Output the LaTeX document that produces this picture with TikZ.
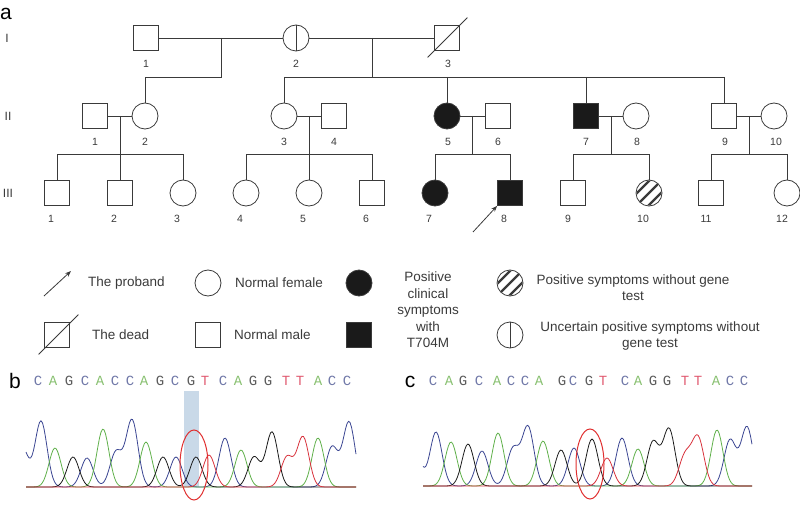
\documentclass[tikz,border=0pt]{standalone}
\usepackage{fontspec}
\setmainfont{Liberation Sans}
\newfontfamily\seqfont{Liberation Mono}
\usetikzlibrary{arrows.meta,calc}
\definecolor{pedline}{HTML}{3A3A3A}
\definecolor{pedfill}{HTML}{1A1A1A}
\definecolor{traceC}{HTML}{3A4592}
\definecolor{traceA}{HTML}{5FB04A}
\definecolor{traceG}{HTML}{1A1A1A}
\definecolor{traceT}{HTML}{D8323C}
\definecolor{letterC}{HTML}{7078A8}
\definecolor{letterA}{HTML}{88C070}
\definecolor{letterG}{HTML}{5A5A5A}
\definecolor{letterT}{HTML}{E05A70}
\definecolor{hilite}{HTML}{C9D9E8}
\definecolor{ringred}{HTML}{E03030}

\tikzset{
  male/.style={draw=pedline, line width=0.8pt, rectangle, minimum size=25pt, inner sep=0pt},
  female/.style={draw=pedline, line width=0.8pt, circle, minimum size=26pt, inner sep=0pt},
  hit/.style={fill=pedfill},
  rel/.style={pedline, line width=0.8pt},
  num/.style={font=\fontsize{10.5}{12}\selectfont, text=pedline, inner sep=0pt},
  gen/.style={font=\fontsize{12}{14}\selectfont, text=pedline, inner sep=0pt},
  panel/.style={font=\fontsize{21}{24}\selectfont, inner sep=0pt},
  legtext/.style={font=\fontsize{13.5}{16.5}\selectfont, text=pedline, inner sep=0pt, align=center},
  base/.style={font=\seqfont\fontsize{14}{16}\selectfont, inner sep=0pt},
  baseC/.style={base, text=letterC},
  baseA/.style={base, text=letterA},
  baseG/.style={base, text=letterG},
  baseT/.style={base, text=letterT},
  trace/.style={line width=0.8pt, line join=round},
  ring/.style={ringred, line width=1pt},
}

\begin{document}
\begin{tikzpicture}[x=1pt, y=-1pt,
  declare function={pk(\t,\m,\h)=\h*exp(-0.5*min(((\t-\m)/6)^2,50));}]
  \useasboundingbox (0,0) rectangle (800,513);

  % panel a: pedigree
  \node[panel] (panA) at (6,13.5) {a};
  \node[gen] (gI) at (7,38) {I};
  \node[gen] (gII) at (8,116) {II};
  \node[gen] (gIII) at (8,193) {III};

  % generation I
  \node[male] (I1) at (146,38) {};
  \node[female] (I2) at (296,38) {};
  \node[male] (I3) at (447,38) {};
  \draw[rel] (I2.north) -- (I2.south);
  \draw[rel] ($(I3.south west)+(-6.5,6.5)$) -- ($(I3.north east)+(7.5,-7.5)$);
  \draw[rel] (I1) -- (I2);
  \draw[rel] (I2) -- (I3);
  \node[num] (nI1) at (146,64) {1};
  \node[num] (nI2) at (296,64) {2};
  \node[num] (nI3) at (448,64) {3};

  % generation II
  \node[male] (II1) at (95,116) {};
  \node[female] (II2) at (145,116) {};
  \node[female] (II3) at (284,116) {};
  \node[male] (II4) at (334,116) {};
  \node[female, hit] (II5) at (447,116) {};
  \node[male] (II6) at (498,116) {};
  \node[male, hit] (II7) at (586,116) {};
  \node[female] (II8) at (636,116) {};
  \node[male] (II9) at (724,116) {};
  \node[female] (II10) at (774,116) {};
  \foreach \i/\x in {1/95,2/145,3/284,4/334,5/448,6/498,7/586,8/637,9/725,10/776}
    \node[num] (nII\i) at (\x,142) {\i};

  % generation III
  \node[male] (III1) at (57,193) {};
  \node[male] (III2) at (120,193) {};
  \node[female] (III3) at (183,193) {};
  \node[female] (III4) at (246,193) {};
  \node[female] (III5) at (309,193) {};
  \node[male] (III6) at (372,193) {};
  \node[female, hit] (III7) at (435,193) {};
  \node[male, hit] (III8) at (510,193) {};
  \node[male] (III9) at (573,193) {};
  \node[female] (III10) at (649,193) {};
  \node[male] (III11) at (711,193) {};
  \node[female] (III12) at (787,193) {};
  \begin{scope}
    \clip (III10.center) circle (12.5pt);
    \foreach \d in {-6,0,6}
      \draw[pedline, line width=2.2pt] ($(III10.center)+(-20+\d,20+\d)$) -- ($(III10.center)+(20+\d,-20+\d)$);
  \end{scope}
  \foreach \i/\x in {1/51,2/114,3/177,4/240,5/303,6/366,7/429,8/504,9/568,10/643,11/706,12/782}
    \node[num] (nIII\i) at (\x,219) {\i};

  % lines of descent
  \coordinate (s1) at (221,77);
  \draw[rel] (s1|-I1) -- (s1) -| (II2);
  \coordinate (s2) at (372,77);
  \draw[rel] (s2|-I2) -- (s2);
  \draw[rel] (II3|-s2) -- (II9|-s2);
  \foreach \n in {II3,II5,II7,II9}
    \draw[rel] (\n|-s2) -- (\n);
  \coordinate (sib) at (0,154);
  \foreach \a/\b/\l/\r in {II1/II2/III1/III3, II3/II4/III4/III6, II5/II6/III7/III8,
                           II7/II8/III9/III10, II9/II10/III11/III12} {
    \draw[rel] (\a) -- (\b);
    \coordinate (m\a) at ($(\a)!.5!(\b)$);
    \draw[rel] (m\a) -- (m\a|-sib);
    \draw[rel] (\l) |- (\r|-sib) -- (\r);
  }
  \draw[rel] (mII1|-sib) -- (III2);
  \draw[rel] (mII3|-sib) -- (III5);
  \coordinate (pb) at (473,232);
  \draw[rel, -{Stealth[length=6pt, width=4.5pt]}] (pb) -- (III8.south west);

  % legend
  \coordinate (lgA0) at (44,296);
  \coordinate (lgA1) at (71,271);
  \draw[rel, -{Stealth[length=6pt, width=4.5pt]}] (lgA0) -- (lgA1);
  \node[legtext, anchor=west] (tA) at (88,283) {The proband};
  \node[female] (lgF) at (208,283) {};
  \node[legtext, anchor=west] (tF) at (235,283) {Normal female};
  \node[female, hit] (lgP) at (359,283) {};
  \node[male] (lgD) at (57,335) {};
  \draw[rel] ($(lgD.south west)+(-5.5,6.5)$) -- ($(lgD.north east)+(8.5,-7.5)$);
  \node[legtext, anchor=west] (tD) at (92,335) {The dead};
  \node[male] (lgM) at (208,335) {};
  \node[legtext, anchor=west] (tM) at (234,335) {Normal male};
  \node[male, hit] (lgQ) at (359,335) {};
  \node[legtext] (tP) at (428,310) {Positive\\clinical\\symptoms\\with\\T704M};
  \node[female] (lgH) at (510,283) {};
  \begin{scope}
    \clip (lgH.center) circle (12.5pt);
    \foreach \d in {-6,0,6}
      \draw[pedline, line width=2.2pt] ($(lgH.center)+(-20+\d,20+\d)$) -- ($(lgH.center)+(20+\d,-20+\d)$);
  \end{scope}
  \node[legtext] (tH) at (633,287.5) {Positive symptoms without gene\\test};
  \node[female] (lgU) at (510,335) {};
  \draw[rel] (lgU.north) -- (lgU.south);
  \node[legtext] (tU) at (650,336) {Uncertain positive symptoms without\\gene test};

  % panel b: patient trace
  \node[panel] (panB) at (15,381) {b};
  \foreach \x/\l [count=\i] in {38/C,53/A,69/G,85/C,100/A,115/C,130/C,144/A,160/G,175/C,
      191/G,205/T,223/C,238/A,253/G,268/G,286/T,300/T,318/A,332/C,347/C}
    \node[base\l] (sb\i) at (\x,381) {\l};
  \fill[hilite] (184,391) rectangle (199,487);
  \draw[trace, traceC] plot[domain=26:356, samples=221] (\x, {487-pk(\x,22,40)-pk(\x,41,66)-pk(\x,87,29)
      -pk(\x,116,35)-pk(\x,132,67)-pk(\x,176,30)-pk(\x,225,49)-pk(\x,332,40)-pk(\x,349,65)});
  \draw[trace, traceA] plot[domain=26:356, samples=221] (\x, {487-pk(\x,55,39)-pk(\x,103,58)-pk(\x,146,45)
      -pk(\x,241,37)-pk(\x,318,49)});
  \draw[trace, traceG] plot[domain=26:356, samples=221] (\x, {487-pk(\x,73,30)-pk(\x,163,30)-pk(\x,196,30)
      -pk(\x,254,30)-pk(\x,272,55)});
  \draw[trace, traceT] plot[domain=26:356, samples=221] (\x, {487-pk(\x,209,32)-pk(\x,287,30)-pk(\x,303,50)});
  \draw[ring] (194,465) ellipse [x radius=14, y radius=35];

  % panel c: control trace
  \node[panel] (panC) at (410,382) {c};
  \foreach \x/\l [count=\i] in {433/C,449/A,463/G,479/C,497/A,511/C,525/C,539/A,562/G,573/C,
      589/G,603/T,625/C,638/A,653/G,667/G,685/T,698/T,716/A,730/C,744/C}
    \node[base\l] (sc\i) at (\x,381) {\l};
  \draw[trace, traceC] plot[domain=423:752, samples=221] (\x, {486-pk(\x,415,35)-pk(\x,436,54)-pk(\x,482,35)
      -pk(\x,513,37)-pk(\x,528,59)-pk(\x,574,38)-pk(\x,622,48)-pk(\x,730,46)-pk(\x,747,59)});
  \draw[trace, traceA] plot[domain=423:752, samples=221] (\x, {486-pk(\x,451,44)-pk(\x,498,53)-pk(\x,543,45)
      -pk(\x,638,37)-pk(\x,717,56)});
  \draw[trace, traceG] plot[domain=423:752, samples=221] (\x, {486-pk(\x,468,42)-pk(\x,561,36)-pk(\x,592,47)
      -pk(\x,653,44)-pk(\x,669,57)});
  \draw[trace, traceT] plot[domain=423:752, samples=221] (\x, {486-pk(\x,607,28)-pk(\x,685,30)-pk(\x,698,48)});
  \draw[ring] (590,464) ellipse [x radius=14, y radius=35];
\end{tikzpicture}
\end{document}
